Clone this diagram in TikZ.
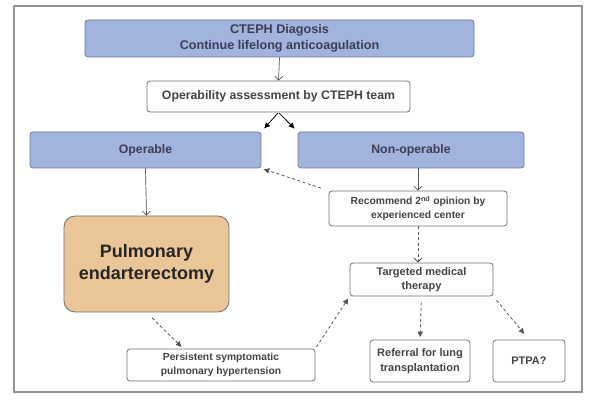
\documentclass[tikz,border=0pt]{standalone}
\usepackage{fontspec}
\setmainfont{Liberation Sans}
\usetikzlibrary{arrows.meta,calc}
\definecolor{bluefill}{HTML}{A2B4DE}
\definecolor{blueline}{HTML}{6A7BA6}
\definecolor{orangefill}{HTML}{E9C597}
\definecolor{boxline}{HTML}{707070}
\definecolor{txt}{HTML}{444444}
\definecolor{arr}{HTML}{555555}
\begin{document}
\begin{tikzpicture}[x=1pt,y=-1pt,
  box/.style={draw=boxline, line width=0.8pt, rounded corners=3pt, align=center, inner sep=0pt, text=txt, fill=white},
  bluebox/.style={box, fill=bluefill, draw=blueline, text=txt!90!blue},
  ftop/.style={font=\bfseries\fontsize{12.6}{16}\selectfont},
  fmid/.style={font=\bfseries\fontsize{12.3}{15}\selectfont},
  fsmall/.style={font=\bfseries\fontsize{10.3}{14}\selectfont},
  fref/.style={font=\bfseries\fontsize{11}{14.5}\selectfont},
  solidarr/.style={draw=arr, line width=0.7pt, -{Straight Barb[length=4pt,width=8pt]}},
  dasharr/.style={draw=arr, line width=0.8pt, dash pattern=on 3pt off 2.5pt, -{Latex[length=6pt,width=6pt]}},
  dashopen/.style={draw=arr, line width=0.8pt, dash pattern=on 3pt off 2.5pt, -{Straight Barb[length=4pt,width=8pt]}},
  fillarr/.style={draw=black, line width=0.8pt, -{Latex[length=6pt,width=6pt]}}
]
\useasboundingbox (0,0) rectangle (595,406);
\node[draw=gray!85, line width=1.6pt, minimum width=568pt, minimum height=386pt, inner sep=0pt] (frame) at (298,199) {};

\node[bluebox, ftop, minimum width=389pt, minimum height=37pt] (top) at (279.5,38.5) {CTEPH Diagosis\\Continue lifelong anticoagulation};
\node[box, fmid, minimum width=263pt, minimum height=31pt] (assess) at (278.5,96.5) {Operability assessment by CTEPH team};
\node[bluebox, fmid, minimum width=231pt, minimum height=36pt] (operable) at (145.5,150) {Operable};
\node[bluebox, fmid, minimum width=226pt, minimum height=36pt] (nonop) at (411,150) {Non-operable};
\node[box, fsmall, minimum width=178pt, minimum height=35pt] (recommend) at (418,208.5) {Recommend 2\textsuperscript{nd} opinion by\\experienced center};
\node[box, fill=orangefill, rounded corners=11pt, minimum width=165pt, minimum height=96pt, text=black!85, font=\bfseries\fontsize{18}{22}\selectfont] (pulm) at (146.5,264) {Pulmonary\\endarterectomy};
\node[box, fref, minimum width=143pt, minimum height=33pt] (targeted) at (421.5,279.5) {Targeted medical\\therapy};
\node[box, fsmall, minimum width=188pt, minimum height=32pt] (persist) at (221,365) {Persistent symptomatic\\pulmonary hypertension};
\node[box, fref, minimum width=100pt, minimum height=42pt] (referral) at (420,361) {Referral for lung\\transplantation};
\node[box, fref, minimum width=72pt, minimum height=42pt] (ptpa) at (529,361) {PTPA?};

\coordinate (pt) at ($(persist.north west)!0.3!(persist.north east)$);

\draw[solidarr] (top.south) -- (assess.north);
\draw[fillarr, shorten <=1pt, shorten >=4pt] (assess.south) -- (operable.north east);
\draw[fillarr, shorten <=1pt, shorten >=4pt] (assess.south) -- (nonop.north west);
\draw[solidarr] (operable.south) -- (pulm.north);
\draw[solidarr] (recommend.north |- nonop.south) -- (recommend.north);
\draw[dasharr, shorten <=8pt, shorten >=2pt] (recommend.north west) -- (operable.south east);
\draw[dashopen] (recommend.south) -- (recommend.south |- targeted.north);
\draw[dasharr, shorten <=8pt, shorten >=2pt] (pulm.south) -- (pt);
\draw[dasharr, shorten <=2pt, shorten >=2pt] (persist.north east) -- (targeted.south west);
\draw[dasharr, shorten <=6pt, shorten >=2pt] (targeted.south) -- (referral.north);
\draw[dasharr, shorten <=5pt, shorten >=7pt] (targeted.south east) -- (ptpa.north);
\end{tikzpicture}
\end{document}
